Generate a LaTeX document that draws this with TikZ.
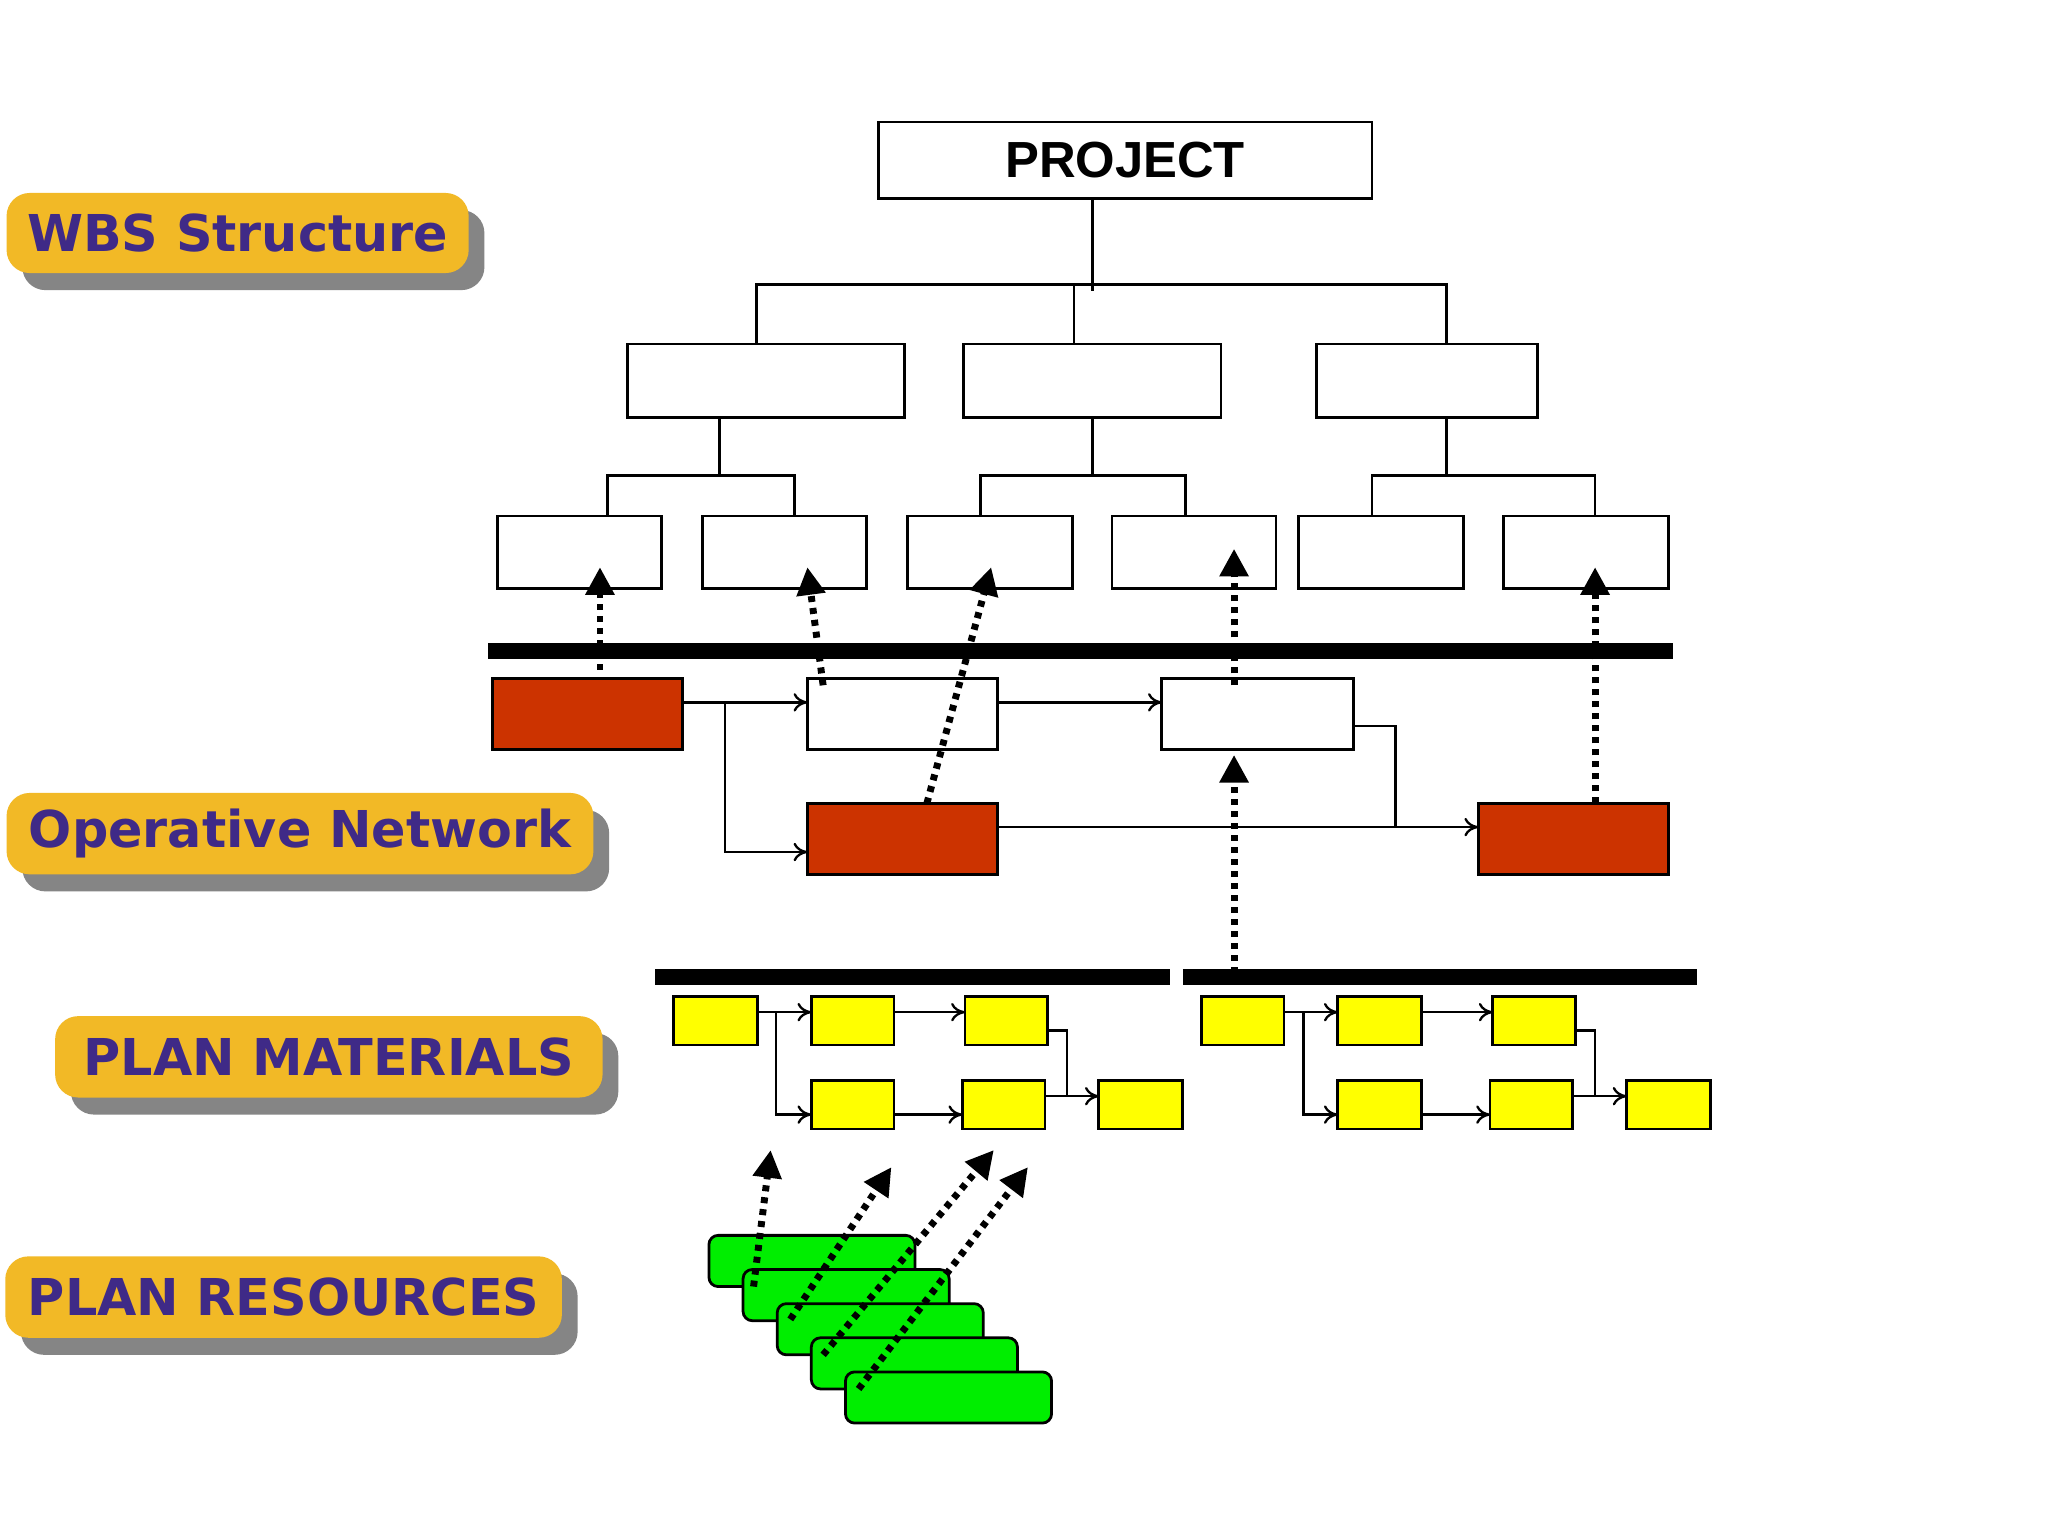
\documentclass[tikz,border=0pt]{standalone}
\usepackage{fontspec}
\setmainfont{Liberation Sans}
\newfontfamily\lblfont{DejaVu Sans}
\usetikzlibrary{arrows.meta,calc}
\definecolor{lblorange}{HTML}{F2B926}
\definecolor{lblpurple}{HTML}{3F2A87}
\definecolor{lblgray}{HTML}{858585}
\definecolor{redbox}{HTML}{CC3300}
\definecolor{yelbox}{HTML}{FFFF00}
\definecolor{grnbox}{HTML}{00EE00}
\newcommand\bx[6]{\node[#6, minimum width={((#4)-(#2))*0.01cm}, minimum height={((#5)-(#3))*0.01cm}] (#1) at ({((#2)+(#4))/2},{((#3)+(#5))/2}) {};}
\newcommand\lbl[6]{%
 \fill[lblgray,rounded corners=5pt] (#2+12,#3+13) rectangle (#4+12,#5+13);
 \node[fill=lblorange,rounded corners=5pt,inner sep=0,minimum width={(#4-#2)*0.01cm}, minimum height={(#5-#3)*0.01cm},font=\lblfont\bfseries\fontsize{11}{13}\selectfont,text=lblpurple] (#1) at ({(#2+#4)/2},{(#3+#5)/2}) {#6};}
\tikzset{
 wbox/.style={draw,line width=0.6pt,fill=white,inner sep=0,outer sep=0},
 rbox/.style={wbox,fill=redbox},
 ybox/.style={wbox,fill=yelbox},
 gbox/.style={wbox,fill=grnbox,rounded corners=2pt},
 tree/.style={line width=0.6pt},
 link/.style={line width=0.5pt,-{To[length=3pt,width=4pt]}},
 dotarrow/.style={line width=1.5pt,dash pattern=on 1.3pt off 1.3pt,-{Triangle[length=6pt,width=6pt]}},
 bar/.style={line width=3.4pt}
}
\begin{document}
\begin{tikzpicture}[x=0.01cm,y=-0.01cm]
\fill[white] (0,0) rectangle (1560,1170);
\useasboundingbox (0,0) rectangle (1560,1170);
% labels
\lbl{lw}{5}{147}{357}{208}{WBS Structure}
\lbl{lo}{5}{604}{452}{666}{Operative Network}
\lbl{lm}{42}{774}{459}{836}{PLAN MATERIALS}
\lbl{lr}{4}{957}{428}{1019}{PLAN RESOURCES}
% WBS
\node[wbox,minimum width=3.76cm,minimum height=0.58cm,font=\bfseries\fontsize{11}{13}\selectfont] (p) at (857,122) {PROJECT};
\bx{a1}{478}{262}{689}{318}{wbox}
\bx{a2}{734}{262}{930}{318}{wbox}
\bx{a3}{1003}{262}{1171}{318}{wbox}
\bx{b1}{379}{393}{504}{448}{wbox}
\bx{b2}{535}{393}{660}{448}{wbox}
\bx{b3}{691}{393}{817}{448}{wbox}
\bx{b4}{847}{393}{972}{448}{wbox}
\bx{b5}{989}{393}{1115}{448}{wbox}
\bx{b6}{1145}{393}{1271}{448}{wbox}
\draw[tree] (p.south -| 832,0) -- (832,222);
\draw[tree] (a1.north -| 576,0) -- (576,217) -- (1102,217) -- (a3.north -| 1102,0);
\draw[tree] (818,217) -- (a2.north -| 818,0);
\draw[tree] (a1.south -| 548,0) -- (548,362);
\draw[tree] (b1.north -| 463,0) -- (463,362) -- (605,362) -- (b2.north -| 605,0);
\draw[tree] (a2.south -| 832,0) -- (832,362);
\draw[tree] (b3.north -| 747,0) -- (747,362) -- (903,362) -- (b4.north -| 903,0);
\draw[tree] (a3.south -| 1102,0) -- (1102,362);
\draw[tree] (b5.north -| 1045,0) -- (1045,362) -- (1215,362) -- (b6.north -| 1215,0);
% operative network
\draw[bar] (372,496) -- (1274,496);
\bx{r1}{375}{517}{520}{571}{rbox}
\bx{w1}{615}{517}{760}{571}{wbox}
\bx{w2}{885}{517}{1031}{571}{wbox}
\bx{r2}{615}{612}{760}{666}{rbox}
\bx{r3}{1126}{612}{1271}{666}{rbox}
\draw[link] (r1.east |- 0,535) -- (w1.west |- 0,535);
\draw[link] (552,535) -- (552,649) -- (r2.west |- 0,649);
\draw[link] (w1.east |- 0,535) -- (w2.west |- 0,535);
\draw[link] (r2.east |- 0,630) -- (r3.west |- 0,630);
\draw[line width=0.5pt] (w2.east |- 0,553) -- (1063,553) -- (1063,630);
\draw[dotarrow] ($(r1.north -| 457,0)+(0,-7)$) -- ($(b1.south -| 457,0)+(0,-16)$);
\draw[dotarrow] ($(w1.north -| 627,0)+(0,5)$) -- ($(b2.south -| 615,0)+(0,-16)$);
\draw[dotarrow] (r2.north -| 706,0) -- ($(b3.south -| 755,0)+(0,-16)$);
\draw[dotarrow] ($(w2.north -| 940,0)+(0,5)$) -- ($(b4.south -| 940,0)+(0,-30)$);
\draw[dotarrow] (r3.north -| 1215,0) -- ($(b6.south -| 1215,0)+(0,-16)$);
% materials
\draw[bar] (499,744) -- (891,744);
\draw[bar] (901,744) -- (1293,744);
\coordinate (mbar) at (940,741);
\draw[dotarrow] (mbar) -- ($(w2.south -| 940,0)+(0,4)$);
\bx{y1}{513}{759}{577}{796}{ybox}
\bx{y2}{618}{759}{681}{796}{ybox}
\bx{y3}{735}{759}{798}{796}{ybox}
\bx{y4}{618}{823}{681}{860}{ybox}
\bx{y5}{733}{823}{796}{860}{ybox}
\bx{y6}{837}{823}{901}{860}{ybox}
\bx{z1}{915}{759}{978}{796}{ybox}
\bx{z2}{1019}{759}{1083}{796}{ybox}
\bx{z3}{1137}{759}{1200}{796}{ybox}
\bx{z4}{1019}{823}{1083}{860}{ybox}
\bx{z5}{1135}{823}{1198}{860}{ybox}
\bx{z6}{1239}{823}{1303}{860}{ybox}
% left group links
\draw[link] (y1.east |- 0,771) -- (y2.west |- 0,771);
\draw[link] (591,771) -- (591,849) -- (y4.west |- 0,849);
\draw[link] (y2.east |- 0,771) -- (y3.west |- 0,771);
\draw[link] (y4.east |- 0,849) -- (y5.west |- 0,849);
\draw[line width=0.5pt] (y3.east |- 0,785) -- (813,785) -- (813,835);
\draw[link] (y5.east |- 0,835) -- (y6.west |- 0,835);
% right group links
\draw[link] (z1.east |- 0,771) -- (z2.west |- 0,771);
\draw[link] (993,771) -- (993,849) -- (z4.west |- 0,849);
\draw[link] (z2.east |- 0,771) -- (z3.west |- 0,771);
\draw[link] (z4.east |- 0,849) -- (z5.west |- 0,849);
\draw[line width=0.5pt] (z3.east |- 0,785) -- (1215,785) -- (1215,835);
\draw[link] (z5.east |- 0,835) -- (z6.west |- 0,835);
% resources
\foreach \k in {0,1,2,3,4}{
  \bx{g\k}{540+26*\k}{941+26*\k}{697+26*\k}{980+26*\k}{gbox}
}
\coordinate (t1) at (587,876);
\coordinate (t2) at (679,889);
\coordinate (t3) at (757,876);
\coordinate (t4) at (783,889);
\draw[dotarrow] ($(g1.north west)+(8,13)$) -- (t1);
\draw[dotarrow] ($(g2.north west)+(10,12)$) -- (t2);
\draw[dotarrow] ($(g3.north west)+(9,13)$) -- (t3);
\draw[dotarrow] ($(g4.north west)+(10,13)$) -- (t4);
\end{tikzpicture}
\end{document}
